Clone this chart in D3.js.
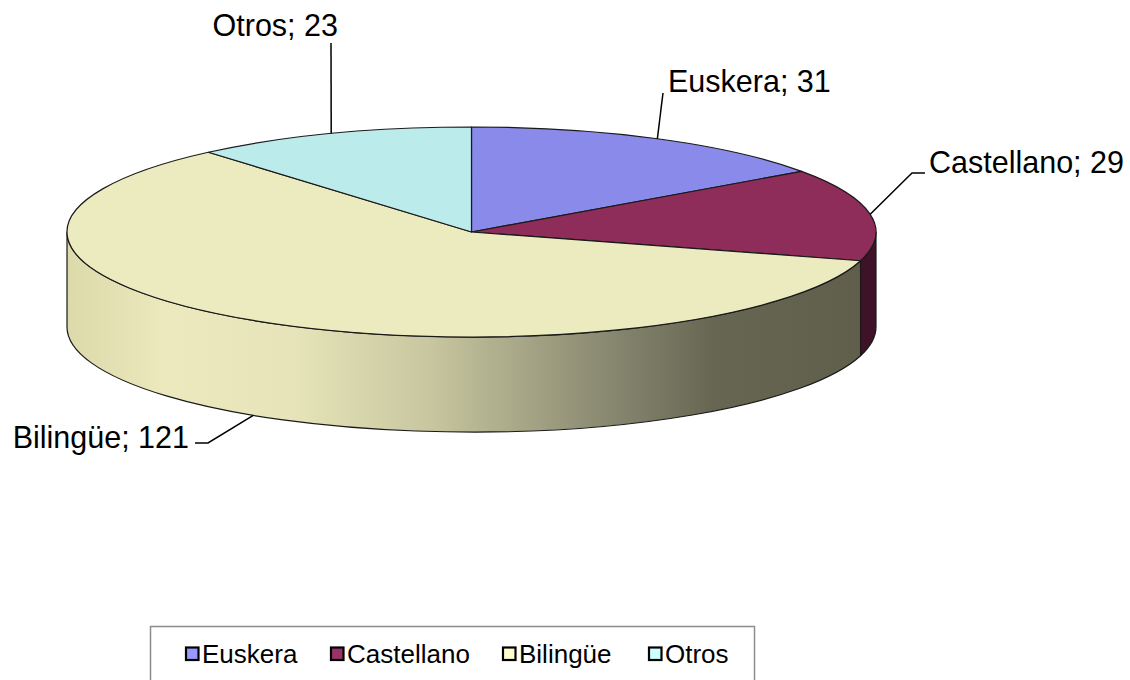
<!DOCTYPE html>
<html>
<head>
<meta charset="utf-8">
<script src="https://cdn.jsdelivr.net/npm/d3@7"></script>
<style>
  body { margin: 0; background: #fff; }
  text { font-family: "Liberation Sans", Arial, sans-serif; fill: #000; }
</style>
</head>
<body>
<div id="chart"></div>
<script>
// data
var categories = ["Euskera", "Castellano", "Bilingüe", "Otros"];
var values = [31, 29, 121, 23];
var topColors = ["#8a8aea", "#8e2d5a", "#ecebbf", "#bcebec"];
var legendColors = ["#9999ff", "#993366", "#ffffcc", "#ccffff"];

// geometry of the 3d disc
var cx = 471.5, cy = 232, rx = 404.5, ry = 105, depth = 95;

var svg = d3.select("#chart").append("svg")
  .attr("width", 1130)
  .attr("height", 680);

var defs = svg.append("defs");
// side shading, light on the left, dark on the right
var grad = defs.append("linearGradient")
  .attr("id", "sideBil")
  .attr("gradientUnits", "userSpaceOnUse")
  .attr("x1", cx - rx).attr("x2", cx + rx)
  .attr("y1", 0).attr("y2", 0);
[[0, "#dcdaaa"], [0.12, "#ebe9bd"], [0.28, "#e6e4b8"], [0.45, "#c7c69f"],
 [0.58, "#a2a183"], [0.70, "#80806a"], [0.80, "#666652"], [1, "#5f5e4a"]]
  .forEach(function(s) {
    grad.append("stop").attr("offset", s[0]).attr("stop-color", s[1]);
  });
var sideFill = ["#5a5ab0", "#3e1328", "url(#sideBil)", "#8fb3b4"];

var pie = d3.pie().sort(null).value(function(d) { return d; });
var arcs = pie(values);

function pt(a, dy) {
  return [cx + rx * Math.sin(a), cy - ry * Math.cos(a) + (dy || 0)];
}

// side walls (only front half is visible: angle PI/2 .. 3PI/2)
var sides = svg.append("g");
arcs.forEach(function(d, i) {
  var a = Math.max(d.startAngle, Math.PI / 2);
  var b = Math.min(d.endAngle, Math.PI * 3 / 2);
  if (b <= a) return;
  var p1 = pt(a), p2 = pt(b), p3 = pt(b, depth), p4 = pt(a, depth);
  var large = (b - a) > Math.PI ? 1 : 0;
  var path = "M" + p1 + " A" + rx + "," + ry + " 0 " + large + " 1 " + p2 +
    " L" + p3 + " A" + rx + "," + ry + " 0 " + large + " 0 " + p4 + " Z";
  sides.append("path")
    .attr("d", path)
    .attr("fill", sideFill[i])
    .attr("stroke", "#1a1a1a")
    .attr("stroke-width", 1.2)
    .attr("stroke-linejoin", "round");
});

// top faces
var tops = svg.append("g");
arcs.forEach(function(d, i) {
  var p1 = pt(d.startAngle), p2 = pt(d.endAngle);
  var large = (d.endAngle - d.startAngle) > Math.PI ? 1 : 0;
  tops.append("path")
    .attr("d", "M" + cx + "," + cy + " L" + p1 + " A" + rx + "," + ry + " 0 " + large + " 1 " + p2 + " Z")
    .attr("fill", topColors[i])
    .attr("stroke", "#1a1a1a")
    .attr("stroke-width", 1.2)
    .attr("stroke-linejoin", "round");
});

// data labels with leader lines: bend point, end point, text position, anchor
var labelLayout = [
  { bend: [663, 93], end: [663, 93], text: [668, 92], anchor: "start" },
  { bend: [912, 173], end: [925, 173], text: [929, 173], anchor: "start" },
  { bend: [208, 443], end: [195, 443], text: [189, 448], anchor: "end" },
  { bend: [331, 43], end: [331, 43], text: [338, 36], anchor: "end" }
];

var labels = svg.append("g");
arcs.forEach(function(d, i) {
  var mid = (d.startAngle + d.endAngle) / 2;
  var front = mid > Math.PI / 2 && mid < Math.PI * 3 / 2;
  var start = pt(mid, front ? depth : 0);
  var L = labelLayout[i];
  labels.append("path")
    .attr("d", "M" + start + " L" + L.bend + " L" + L.end)
    .attr("fill", "none")
    .attr("stroke", "#000")
    .attr("stroke-width", 1.5);
  labels.append("text")
    .attr("x", L.text[0])
    .attr("y", L.text[1])
    .attr("text-anchor", L.anchor)
    .style("font-size", "30.5px")
    .text(categories[i] + "; " + values[i]);
});

// legend
var legend = svg.append("g");
legend.append("rect")
  .attr("x", 150.5).attr("y", 626.5)
  .attr("width", 604).attr("height", 80)
  .attr("fill", "#fff")
  .attr("stroke", "#8c8c8c")
  .attr("stroke-width", 1.5);
var legendX = [185, 330, 502, 648];
categories.forEach(function(c, i) {
  var g = legend.append("g").attr("transform", "translate(" + legendX[i] + ",0)");
  g.append("rect")
    .attr("x", 1).attr("y", 647.5)
    .attr("width", 12.5).attr("height", 12.5)
    .attr("fill", legendColors[i])
    .attr("stroke", "#000")
    .attr("stroke-width", 2.2);
  g.append("text")
    .attr("x", 17).attr("y", 663)
    .style("font-size", "26px")
    .text(c);
});
</script>
</body>
</html>
